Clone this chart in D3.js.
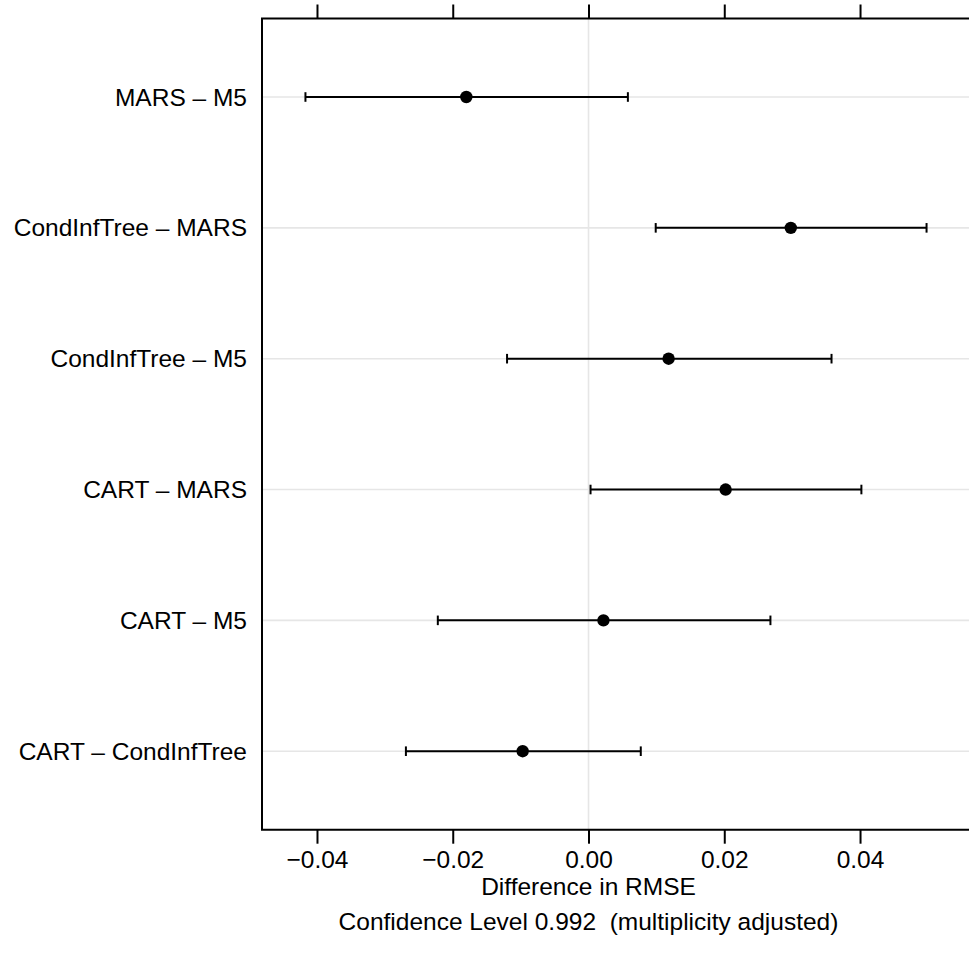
<!DOCTYPE html>
<html>
<head>
<meta charset="utf-8">
<script src="https://cdn.jsdelivr.net/npm/d3@7"></script>
<style>
  html, body { margin: 0; padding: 0; background: #fff; }
  svg { display: block; }
  text { font-family: "Liberation Sans", Arial, Helvetica, sans-serif; fill: #000; white-space: pre; }
</style>
</head>
<body>
<svg id="chart" width="969" height="972"></svg>
<script>
// ---- data ----
const comparisons = ["MARS – M5", "CondInfTree – MARS", "CondInfTree – M5", "CART – MARS", "CART – M5", "CART – CondInfTree"];
const estimates = [-0.0180, 0.0298, 0.0118, 0.0202, 0.0022, -0.0097];
const lowerCI   = [-0.0417, 0.0099, -0.0120, 0.0003, -0.0222, -0.0269];
const upperCI   = [0.0058, 0.0498, 0.0358, 0.0402, 0.0268, 0.0077];
const xTicks = [-0.04, -0.02, 0.00, 0.02, 0.04];
const xTitle = "Difference in RMSE";
const xSubtitle = "Confidence Level 0.992  (multiplicity adjusted)";

// ---- layout ----
const W = 969, H = 972;
const pLeft = 262, pRight = 970, pTop = 18.5, pBottom = 829.7;
const fs = 24.5;

const svg = d3.select("#chart");
svg.append("rect").attr("width", W).attr("height", H).attr("fill", "#fff");

const x = d3.scaleLinear().domain([-0.0481, 0.0562]).range([pLeft, pRight]);
const y = d3.scalePoint().domain(comparisons).range([pTop, pBottom]).padding(0.6);

const fmt = v => (v < 0 ? "\u2212" : "") + d3.format(".2f")(Math.abs(v));

// gridlines
const grid = svg.append("g");
grid.selectAll("line.h").data(comparisons).join("line")
  .attr("x1", pLeft).attr("x2", pRight)
  .attr("y1", d => y(d)).attr("y2", d => y(d))
  .attr("stroke", "#e6e6e6").attr("stroke-width", 1.6);
grid.append("line")
  .attr("x1", x(0)).attr("x2", x(0)).attr("y1", pTop).attr("y2", pBottom)
  .attr("stroke", "#e6e6e6").attr("stroke-width", 1.6);

// error bars
const rows = comparisons.map((c, i) => ({c, est: estimates[i], lo: lowerCI[i], hi: upperCI[i]}));
const bars = svg.append("g").selectAll("g").data(rows).join("g");
bars.append("line")
  .attr("x1", d => x(d.lo)).attr("x2", d => x(d.hi))
  .attr("y1", d => y(d.c)).attr("y2", d => y(d.c))
  .attr("stroke", "#000").attr("stroke-width", 2);
bars.append("line")
  .attr("x1", d => x(d.lo)).attr("x2", d => x(d.lo))
  .attr("y1", d => y(d.c) - 4.8).attr("y2", d => y(d.c) + 4.8)
  .attr("stroke", "#000").attr("stroke-width", 2);
bars.append("line")
  .attr("x1", d => x(d.hi)).attr("x2", d => x(d.hi))
  .attr("y1", d => y(d.c) - 4.8).attr("y2", d => y(d.c) + 4.8)
  .attr("stroke", "#000").attr("stroke-width", 2);
bars.append("circle")
  .attr("cx", d => x(d.est)).attr("cy", d => y(d.c)).attr("r", 6.2)
  .attr("fill", "#000");

// frame (left, top, bottom; right edge lies outside the window)
const frame = svg.append("g").attr("stroke", "#000").attr("stroke-width", 2).attr("fill", "none");
frame.append("path").attr("d", `M${pRight},${pTop}H${pLeft}V${pBottom}H${pRight}`);

// axes
const axB = d3.axisBottom(x).tickValues(xTicks).tickFormat(fmt).tickSize(14).tickPadding(7);
const axT = d3.axisTop(x).tickValues(xTicks).tickFormat("").tickSize(14);
const gB = svg.append("g").attr("transform", `translate(0,${pBottom})`).call(axB);
const gT = svg.append("g").attr("transform", `translate(0,${pTop})`).call(axT);
[gB, gT].forEach(g => {
  g.select(".domain").remove();
  g.selectAll(".tick line").attr("stroke", "#000").attr("stroke-width", 2);
});
gB.selectAll(".tick text").attr("font-size", fs).attr("font-family", "Liberation Sans, Arial, sans-serif").attr("fill", "#000");

// y labels
svg.append("g").selectAll("text").data(comparisons).join("text")
  .attr("x", 247).attr("y", d => y(d)).attr("dy", "0.35em")
  .attr("text-anchor", "end").attr("font-size", fs)
  .text(d => d);

// titles
svg.append("text").attr("x", x(0)).attr("y", 895).attr("text-anchor", "middle")
  .attr("font-size", fs).text(xTitle);
svg.append("text").attr("x", x(0)).attr("y", 930).attr("text-anchor", "middle")
  .attr("font-size", fs).text(xSubtitle);
</script>
</body>
</html>
